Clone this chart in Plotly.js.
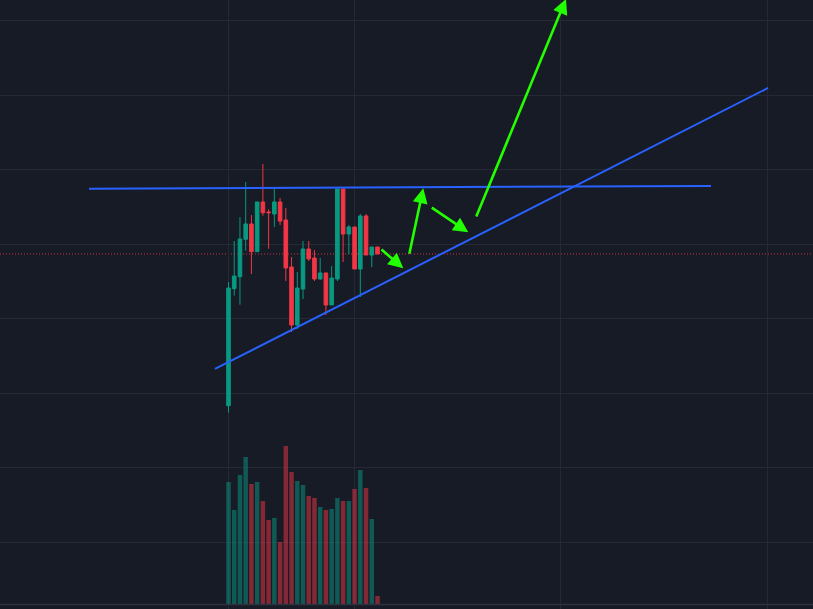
<!DOCTYPE html>
<html>
<head>
<meta charset="utf-8">
<script src="https://cdn.plot.ly/plotly-3.0.1.min.js"></script>
<style>
  html, body { margin: 0; padding: 0; background: #171b26; }
  #chart { width: 813px; height: 609px; }
</style>
</head>
<body>
<div id="chart"></div>
<script>
// ---- data (bar index, price units, volume units) ----
const barIndex = [0,1,2,3,4,5,6,7,8,9,10,11,12,13,14,15,16,17,18,19,20,21,22,23,24,25,26];
const openP  = [78.33,94.04,95.65,100.67,102.73,99.01,105.68,104.34,104.07,105.68,103.26,96.95,89.16,93.99,99.37,98.16,95.34,96.15,91.85,95.34,107.43,101.38,102.32,96.68,103.80,98.56,99.64];
const highP  = [94.94,100.44,103.63,108.37,103.93,105.68,110.78,104.70,107.43,106.22,104.87,98.29,96.28,100.44,100.44,99.23,98.16,96.15,97.09,107.43,107.43,102.59,102.32,104.07,104.07,99.64,99.64];
const lowP   = [77.39,93.10,91.89,99.14,96.01,99.01,103.84,99.41,102.32,102.59,95.07,88.22,88.63,92.65,97.76,95.07,95.21,90.51,91.85,95.07,97.62,98.70,96.68,92.92,98.56,96.95,98.70];
const closeP = [94.13,95.74,100.71,102.73,99.01,105.68,104.24,104.24,105.68,103.12,96.82,89.16,94.13,99.37,98.03,95.34,96.15,91.85,95.47,107.43,101.38,102.32,96.68,103.80,98.56,99.64,98.70];
const volume = [122000,94000,129000,147000,120000,122000,103000,84000,86000,62000,158000,132000,123000,119000,108000,106000,97000,94000,95000,106000,103000,103000,115000,134000,116000,85000,8000];

// drawn lines (bar index, price)
const resistX = [-24.34, 84.19];
const resistY = [107.47, 107.83];
const supportX = [-2.36, 94.14];
const supportY = [83.26, 120.99];

// drawn arrows: tail -> tip (bar index, price)
const arrowTailX = [26.44, 31.50, 35.21, 43.13];
const arrowTailY = [99.46, 98.52, 105.05, 103.53];
const arrowTipX  = [30.50, 33.99, 41.84, 58.89];
const arrowTipY  = [96.78, 107.52, 101.61, 132.94];

// vertical grid positions (bar index)
const timeGrid = [0, 22, 58, 94];

const UP = '#089981', DOWN = '#f23645';
const UPV = 'rgba(8,153,129,0.5)', DOWNV = 'rgba(242,54,69,0.5)';
const volColors = closeP.map((c, i) => c >= openP[i] ? UPV : DOWNV);

const traces = [
  {
    type: 'bar', x: barIndex, y: volume, yaxis: 'y2',
    marker: { color: volColors, line: { width: 0 } },
    width: 0.78, hoverinfo: 'skip'
  },
  {
    type: 'candlestick', x: barIndex,
    open: openP, high: highP, low: lowP, close: closeP,
    increasing: { line: { color: UP, width: 1 }, fillcolor: UP },
    decreasing: { line: { color: DOWN, width: 1 }, fillcolor: DOWN },
    whiskerwidth: 0, hoverinfo: 'skip'
  },
  {
    type: 'scatter', mode: 'lines', x: resistX, y: resistY,
    line: { color: '#2962ff', width: 2 }, hoverinfo: 'skip'
  },
  {
    type: 'scatter', mode: 'lines', x: supportX, y: supportY,
    line: { color: '#2962ff', width: 2 }, hoverinfo: 'skip'
  }
];

const annotations = arrowTipX.map((tx, i) => ({
  x: tx, y: arrowTipY[i], xref: 'x', yref: 'y',
  ax: arrowTailX[i], ay: arrowTailY[i], axref: 'x', ayref: 'y',
  text: '', showarrow: true, arrowhead: 2, arrowsize: 1.15,
  arrowwidth: 2.6, arrowcolor: '#22ff00', standoff: 0, startstandoff: 0
}));

const lastClose = closeP[closeP.length - 1];

const layout = {
  width: 813, height: 609,
  margin: { l: 0, r: 0, t: 0, b: 0, pad: 0 },
  paper_bgcolor: '#171b26', plot_bgcolor: '#171b26',
  showlegend: false,
  boxgap: 0.1,
  xaxis: {
    range: [-39.87, 101.99], showticklabels: false, zeroline: false,
    tickmode: 'array', tickvals: timeGrid,
    showgrid: true, gridcolor: '#252936', gridwidth: 1,
    rangeslider: { visible: false }, fixedrange: true, showline: false
  },
  yaxis: {
    range: [51.03, 132.80], showticklabels: false, zeroline: false,
    tick0: 0, dtick: 10, showgrid: true, gridcolor: '#252936', gridwidth: 1,
    fixedrange: true
  },
  yaxis2: {
    overlaying: 'y', range: [-5000, 604000], showticklabels: false,
    showgrid: false, zeroline: false, fixedrange: true
  },
  shapes: [
    { type: 'line', xref: 'paper', yref: 'y', x0: 0, x1: 1, y0: lastClose, y1: lastClose,
      line: { color: 'rgba(242,54,69,0.85)', width: 1, dash: '1px,2px' }, layer: 'below' },
    { type: 'line', xref: 'paper', yref: 'paper', x0: 0, x1: 1, y0: 0.0075, y1: 0.0075,
      line: { color: '#2e3240', width: 1.5 } }
  ],
  annotations: annotations
};

Plotly.newPlot('chart', traces, layout, { displayModeBar: false, staticPlot: true });
</script>
</body>
</html>
